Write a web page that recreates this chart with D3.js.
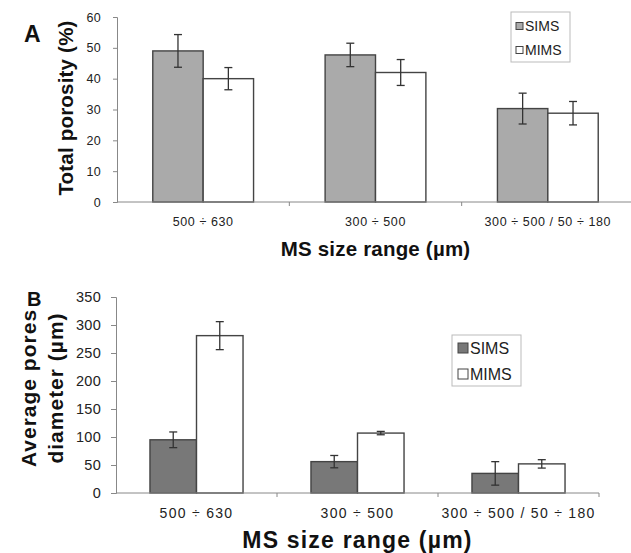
<!DOCTYPE html>
<html>
<head>
<meta charset="utf-8">
<script src="https://cdn.jsdelivr.net/npm/d3@7"></script>
<style>
  body { margin: 0; background: #fff; }
  svg { display: block; font-family: "Liberation Sans", Arial, sans-serif; }
</style>
</head>
<body>
<div id="svg-container"></div>
<script>
// two stacked bar panels, SIMS vs MIMS

const categories = ["500 \u00f7 630", "300 \u00f7 500", "300 \u00f7 500 / 50 \u00f7 180"];
const series = ["SIMS", "MIMS"];

// panel A: total porosity (%)
const porosity = [49, 40, 47.7, 42, 30.3, 28.8];
const porosityErr = [5.3, 3.6, 3.8, 4.2, 5, 3.8];
const porosityTicks = [0, 10, 20, 30, 40, 50, 60];

// panel B: average pores diameter (µm)
const diameter = [95, 281, 56, 107, 35, 52];
const diameterErr = [14, 25, 11, 3, 21, 7.5];
const diameterTicks = [0, 50, 100, 150, 200, 250, 300, 350];

const width = 631, height = 553;

const svg = d3.select("#svg-container").append("svg")
    .attr("width", width)
    .attr("height", height)
    .attr("viewBox", [0, 0, width, height]);

function panel(opt) {
    const g = svg.append("g");

    const x = d3.scaleBand().domain(categories).range([opt.x0, opt.x1]).paddingInner(0).paddingOuter(0);
    const y = d3.scaleLinear().domain([0, opt.max]).range([opt.y0, opt.y1]);
    const inner = d3.scaleBand().domain(series).range([0, x.bandwidth()]).paddingInner(0).paddingOuter(opt.outer);

    const rows = [];
    categories.forEach((c, i) => {
        series.forEach((s, j) => {
            rows.push({ cat: c, ser: s, v: opt.values[i * 2 + j], e: opt.errs[i * 2 + j] });
        });
    });

    // y axis
    const yAxis = g.append("g")
        .attr("transform", `translate(${opt.x0},0)`)
        .call(d3.axisLeft(y).tickValues(opt.ticks).tickSize(opt.tickLen).tickPadding(opt.tickPad));
    yAxis.select(".domain").attr("stroke", "#888");
    yAxis.selectAll(".tick line").attr("stroke", "#888");
    yAxis.selectAll(".tick text").attr("fill", "#222").style("font-size", opt.tickFont + "px")
        .style("letter-spacing", opt.tickSpace + "px");

    // bars
    g.selectAll("rect.bar")
        .data(rows)
        .enter()
        .append("rect")
        .attr("class", "bar")
        .attr("x", d => x(d.cat) + inner(d.ser))
        .attr("y", d => y(d.v))
        .attr("width", inner.bandwidth())
        .attr("height", d => y(0) - y(d.v))
        .attr("fill", d => d.ser === "SIMS" ? opt.color : "#fff")
        .attr("stroke", "#444")
        .attr("stroke-width", 1.4);

    // error bars
    const eb = g.selectAll("g.err")
        .data(rows)
        .enter()
        .append("g")
        .attr("class", "err")
        .attr("stroke", "#333")
        .attr("stroke-width", 1.3);
    const cx = d => x(d.cat) + inner(d.ser) + inner.bandwidth() / 2;
    eb.append("line")
        .attr("x1", cx).attr("x2", cx)
        .attr("y1", d => y(d.v + d.e)).attr("y2", d => y(d.v - d.e));
    eb.append("line")
        .attr("x1", d => cx(d) - 4).attr("x2", d => cx(d) + 4)
        .attr("y1", d => y(d.v + d.e)).attr("y2", d => y(d.v + d.e));
    eb.append("line")
        .attr("x1", d => cx(d) - 4).attr("x2", d => cx(d) + 4)
        .attr("y1", d => y(d.v - d.e)).attr("y2", d => y(d.v - d.e));

    // x axis line + boundary ticks
    g.append("line")
        .attr("x1", opt.x0).attr("x2", opt.x1)
        .attr("y1", y(0)).attr("y2", y(0))
        .attr("stroke", "#888");
    g.selectAll("line.sep")
        .data(categories.slice(1).concat(["end"]))
        .enter()
        .append("line")
        .attr("class", "sep")
        .attr("x1", d => d === "end" ? opt.x1 : x(d))
        .attr("x2", d => d === "end" ? opt.x1 : x(d))
        .attr("y1", y(0)).attr("y2", y(0) + 4)
        .attr("stroke", "#888");

    g.selectAll("text.cat")
        .data(categories)
        .enter()
        .append("text")
        .attr("class", "cat")
        .attr("x", d => x(d) + x.bandwidth() / 2)
        .attr("y", opt.catY)
        .attr("text-anchor", "middle")
        .attr("fill", "#222")
        .style("font-size", opt.catFont + "px")
        .style("letter-spacing", opt.catSpace + "px")
        .text(d => d);

    g.append("text")
        .attr("x", (opt.x0 + opt.x1) / 2)
        .attr("y", opt.titleY)
        .attr("text-anchor", "middle")
        .attr("font-weight", "bold")
        .attr("fill", "#111")
        .style("font-size", opt.titleFont + "px")
        .style("letter-spacing", opt.titleSpace + "px")
        .text("MS size range (\u00b5m)");

    // y title
    opt.yTitle.forEach((t, i) => {
        g.append("text")
            .attr("transform", `translate(${opt.yTitleX[i]},${opt.yTitleY}) rotate(-90)`)
            .attr("text-anchor", "middle")
            .attr("font-weight", "bold")
            .attr("fill", "#111")
            .style("font-size", opt.yTitleFont + "px")
            .style("letter-spacing", opt.yTitleSpace + "px")
            .text(t);
    });

    g.append("text")
        .attr("x", opt.letter[0]).attr("y", opt.letter[1])
        .attr("font-weight", "bold")
        .attr("fill", "#111")
        .style("font-size", opt.letterFont + "px")
        .text(opt.letter[2]);

    // legend
    const L = opt.legend;
    g.append("rect")
        .attr("x", L.x).attr("y", L.y).attr("width", L.w).attr("height", L.h)
        .attr("fill", "#fff").attr("stroke", "#bbb");
    series.forEach((s, i) => {
        const ly = L.y + L.first + i * L.gap;
        g.append("rect")
            .attr("x", L.x + L.pad).attr("y", ly - L.sw / 2)
            .attr("width", L.sw).attr("height", L.sw)
            .attr("fill", s === "SIMS" ? opt.color : "#fff")
            .attr("stroke", "#444");
        g.append("text")
            .attr("x", L.x + L.pad + L.sw + 2).attr("y", ly)
            .attr("dy", "0.35em")
            .attr("fill", "#222")
            .style("font-size", L.font + "px")
            .text(s);
    });
}

panel({
    x0: 117, x1: 634, y0: 202, y1: 17, max: 60,
    values: porosity, errs: porosityErr, ticks: porosityTicks,
    color: "#aaaaaa", outer: 0.71,
    tickLen: 4, tickPad: 12, tickFont: 12.5, tickSpace: 0.3,
    catY: 226, catFont: 12.5, catSpace: 0.6,
    titleY: 256, titleFont: 20.5, titleSpace: 0.2,
    yTitle: ["Total porosity (%)"], yTitleX: [73], yTitleY: 108, yTitleFont: 20.5, yTitleSpace: 0.2,
    letter: [24, 42, "A"], letterFont: 23,
    legend: { x: 511, y: 12, w: 59, h: 50, first: 14, gap: 24, pad: 5, sw: 7, font: 14 }
});

panel({
    x0: 116, x1: 599, y0: 493, y1: 297, max: 350,
    values: diameter, errs: diameterErr, ticks: diameterTicks,
    color: "#787878", outer: 0.73,
    tickLen: 5, tickPad: 10, tickFont: 14.5, tickSpace: 0.3,
    catY: 518, catFont: 14, catSpace: 1.3,
    titleY: 548, titleFont: 23, titleSpace: 1.2,
    yTitle: ["Average pores", "diameter (\u00b5m)"], yTitleX: [36, 63], yTitleY: 388, yTitleFont: 21, yTitleSpace: 1,
    letter: [27, 306, "B"], letterFont: 20,
    legend: { x: 452, y: 335, w: 69, h: 51, first: 13, gap: 26, pad: 6, sw: 10, font: 16 }
});
</script>
</body>
</html>
